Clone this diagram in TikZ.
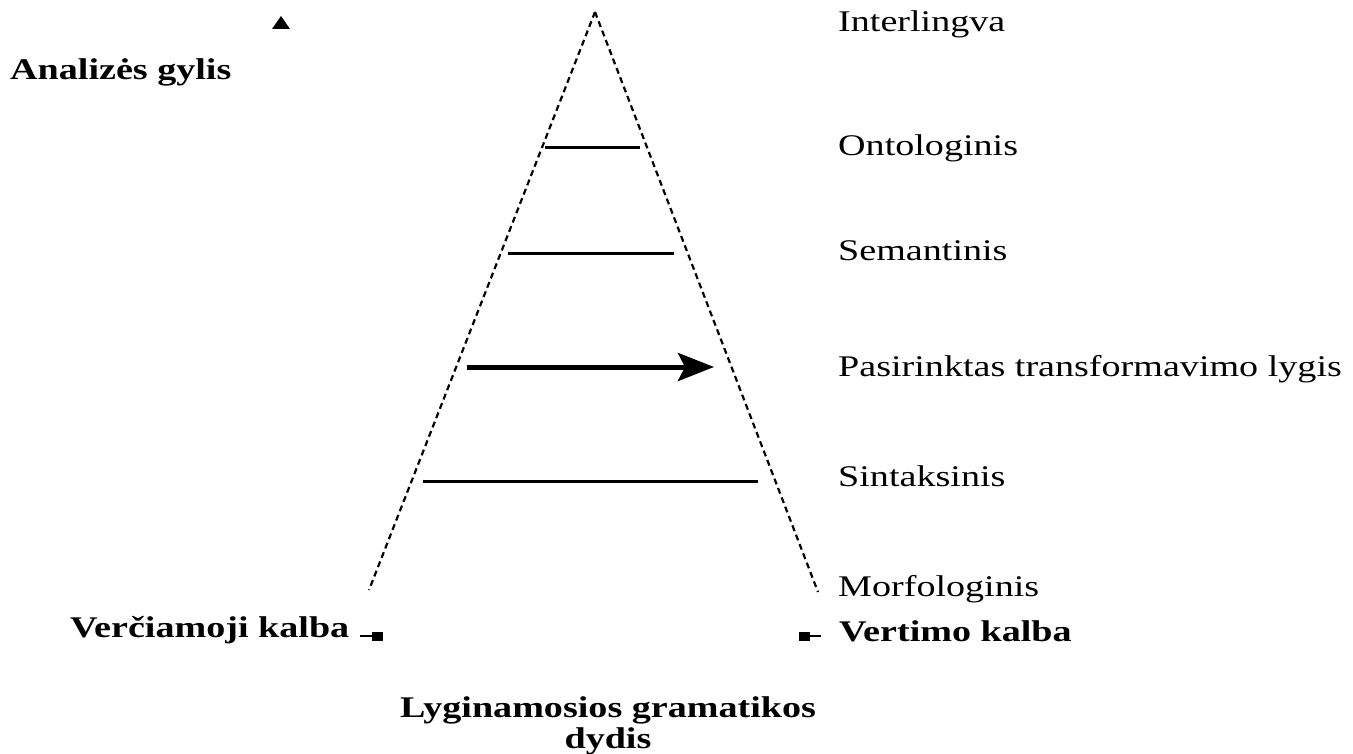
\documentclass[tikz,border=0pt]{standalone}
\usepackage{fontspec}
\setmainfont{Liberation Serif}[FakeStretch=1.27]
\usetikzlibrary{arrows.meta,positioning}
\tikzset{
  levellbl/.style={anchor=base west,inner sep=0pt,font=\fontsize{30}{31}\selectfont},
  axislbl/.style={anchor=base west,inner sep=0pt,font=\fontsize{30}{31}\selectfont\bfseries},
  side/.style={line width=2.2pt,dash pattern=on 6pt off 4pt},
  rung/.style={line width=3pt},
  thickarrow/.style={-{Stealth[length=36pt,width=28pt,inset=7pt]},line width=5pt},
  tick/.style={line width=2pt}
}
\begin{document}
\begin{tikzpicture}[x=1pt,y=-1pt]
  \useasboundingbox (0,0) rectangle (1353,754);
  % triangle
  \coordinate (apex) at (595,12);
  \coordinate (lbase) at (369,590);
  \coordinate (rbase) at (818,592);
  \draw[side] (apex) -- (lbase);
  \draw[side] (apex) -- (rbase);
  % levels
  \coordinate (onto w) at (545,148);  \coordinate (onto e) at (640,148);
  \coordinate (sem w) at (508,254);   \coordinate (sem e) at (674,254);
  \coordinate (pas w) at (467,367);   \coordinate (pas e) at (714,367);
  \coordinate (sin w) at (423,481);   \coordinate (sin e) at (758,481);
  \draw[rung] (onto w) -- (onto e);
  \draw[rung] (sem w) -- (sem e);
  \draw[thickarrow] (pas w) -- (pas e);
  \draw[rung] (sin w) -- (sin e);
  % level names
  \node[levellbl] (inter) at (838,32) {Interlingva};
  \node[levellbl] (onto) at (838,156) {Ontologinis};
  \node[levellbl] (sem) at (838,261) {Semantinis};
  \node[levellbl] (pas) at (838,376) {Pasirinktas transformavimo lygis};
  \node[levellbl] (sin) at (838,486) {Sintaksinis};
  \node[levellbl] (morf) at (838,596) {Morfologinis};
  % axes
  \fill (281,16) -- (290,29) -- (272,29) -- cycle;
  \node[axislbl] (depth) at (10,80) {Analizės gylis};
  \node[axislbl] (src) at (70,637) {Verčiamoji kalba};
  \node[axislbl] (tgt) at (839,641) {Vertimo kalba};
  \draw[tick] (360,636) -- (372,636);
  \fill (372,632) rectangle (383,641);
  \fill (799,632) rectangle (810,641);
  \draw[tick] (810,636) -- (821,636);
  \node[anchor=base,inner sep=0pt,align=center,font=\fontsize{30}{31}\selectfont\bfseries] (size) at (608,748) {Lyginamosios gramatikos\\dydis};
\end{tikzpicture}
\end{document}
